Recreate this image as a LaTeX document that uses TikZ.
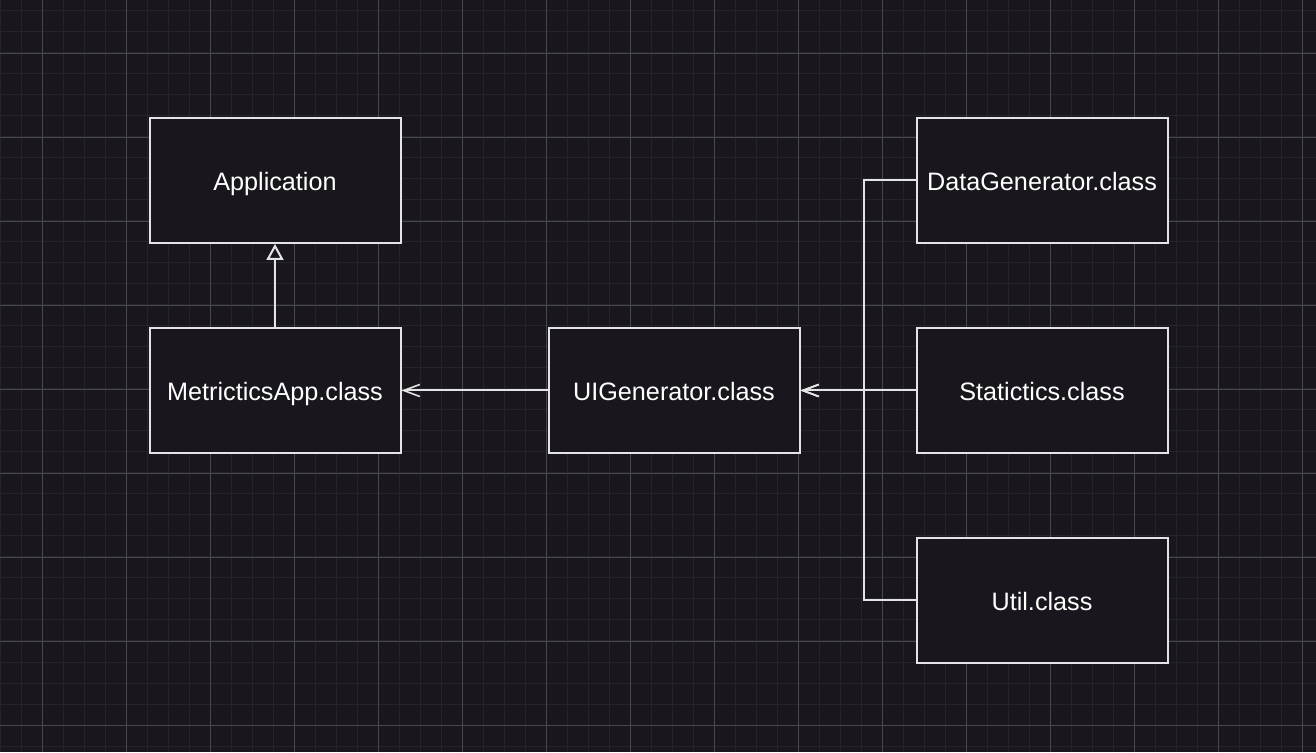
\documentclass[tikz,border=0pt]{standalone}
\usepackage{fontspec}
\setmainfont{Liberation Sans}
\usetikzlibrary{arrows.meta, backgrounds, positioning}

\definecolor{canvas}{RGB}{25,23,29}
\definecolor{gridminor}{RGB}{38,36,43}
\definecolor{gridmajor}{RGB}{72,71,76}
\definecolor{strokecol}{RGB}{228,228,230}

\begin{document}
\begin{tikzpicture}[
	x=1pt, y=1pt,
	classbox/.style = {draw=strokecol, fill=canvas, line width=2pt, minimum width=251pt, minimum height=125pt, text height=20pt, text depth=0pt, text=white, font=\fontsize{25.2}{30}\selectfont},
	link/.style = {draw=strokecol, line width=2pt},
	uses/.style = {link, -{Straight Barb[length=16pt, width=12pt, line width=1.6pt]}},
	extends/.style = {link, -{Triangle[open, length=16pt, width=17pt, fill=canvas]}},
	node distance = 83pt and 146pt
]

% background and grid
\fill[canvas] (0,0) rectangle (1316,752);
\useasboundingbox (0,0) rectangle (1316,752);
\foreach \x in {0,21,...,1316} \draw[gridminor, line width=1pt] (\x,0) -- (\x,752);
\foreach \y in {6,27,...,752} \draw[gridminor, line width=1pt] (0,\y) -- (1316,\y);
\foreach \x in {42,126,...,1316} \draw[gridmajor, line width=0.8pt] (\x,0) -- (\x,752);
\foreach \y in {27,111,...,752} \draw[gridmajor, line width=0.8pt] (0,\y) -- (1316,\y);

% classes
\node[classbox] (application) at (275,571.5) {Application};
\node[classbox, below=of application] (metrictics) {MetricticsApp.class};
\node[classbox, right=of metrictics] (uigenerator) {UIGenerator.class};
\node[classbox, right=115pt of uigenerator] (statictics) {Statictics.class};
\node[classbox, above=of statictics] (datagenerator) {DataGenerator.class};
\node[classbox, below=of statictics] (util) {Util.class};

\coordinate[right=63pt of uigenerator.east] (bus);

% connectors
\draw[extends] (metrictics) -- (application);
\draw[uses] (uigenerator) -- (metrictics);
\draw[uses] (datagenerator.west) -| (bus) -- (uigenerator.east);
\draw[uses] (util.west) -| (bus) -- (uigenerator.east);
\draw[uses] (statictics) -- (uigenerator);

\end{tikzpicture}
\end{document}
